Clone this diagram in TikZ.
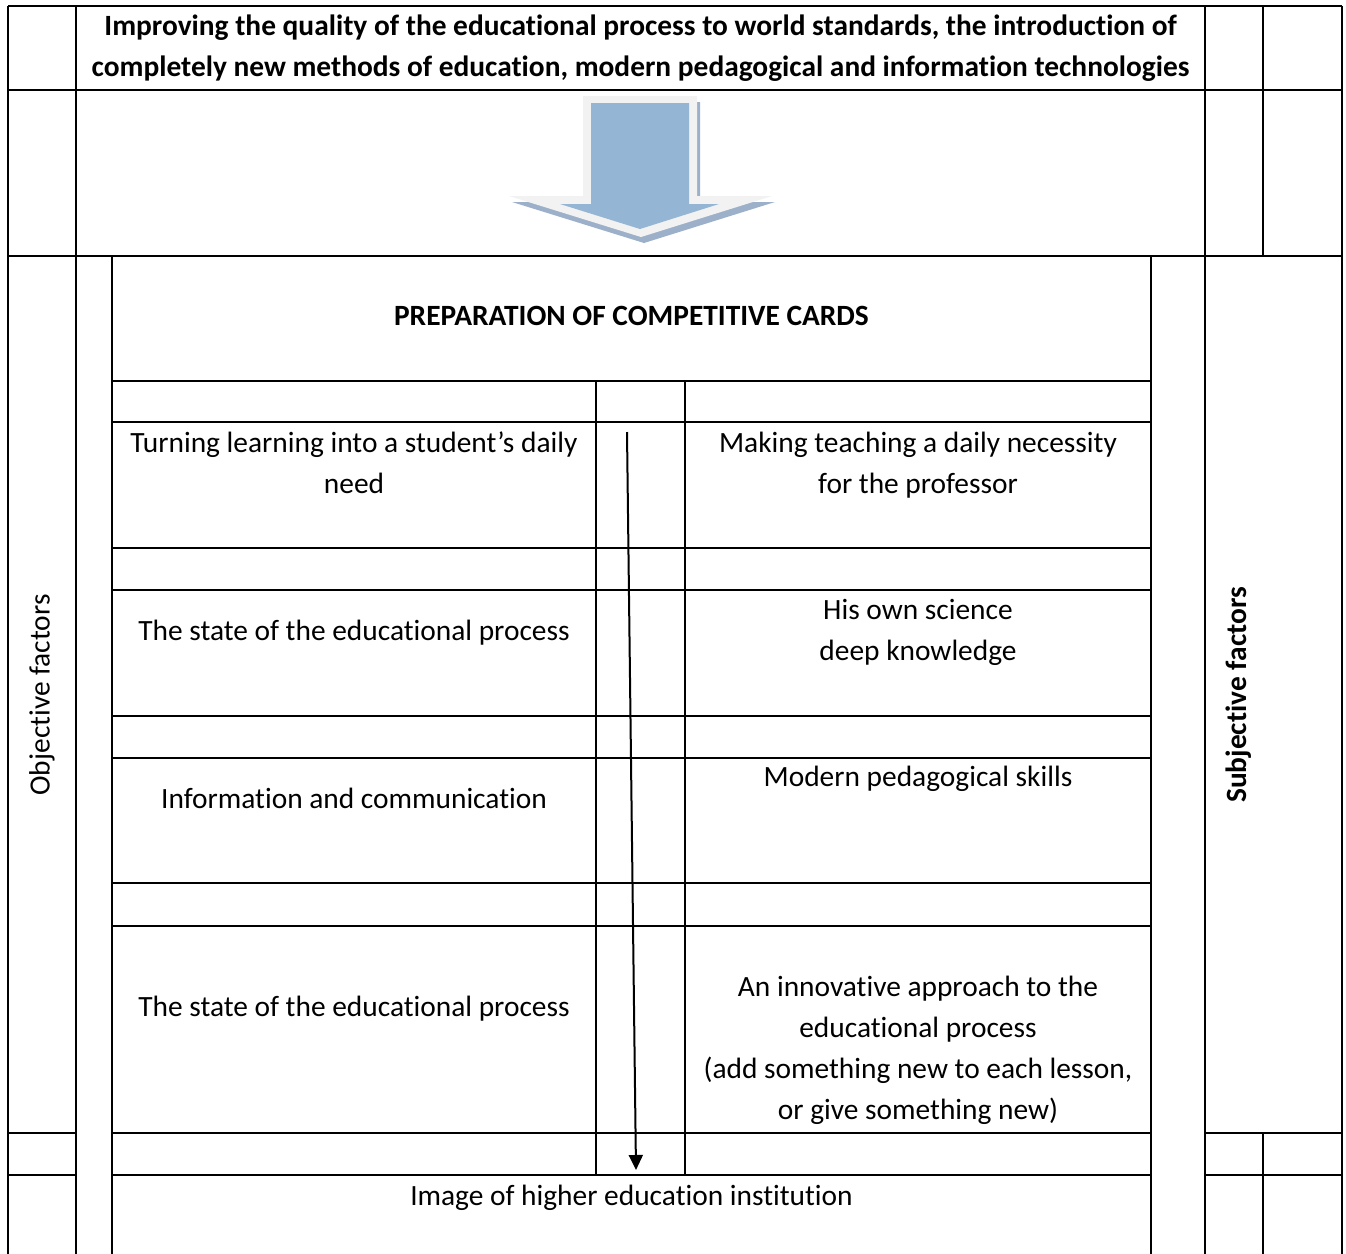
\documentclass[tikz,border=0pt]{standalone}
\usepackage{fontspec}
\setmainfont{Carlito}[Ligatures={NoCommon}]
\usepackage{tikz}
\usetikzlibrary{arrows.meta}

\definecolor{arrowblue}{RGB}{149,181,212}
\definecolor{arrowrim}{RGB}{242,242,242}
\definecolor{arrowshade}{RGB}{156,177,201}

\tikzset{
  cell/.style={line width=1.4pt},
  celltext/.style={inner sep=0pt,align=center,font=\fontsize{14.7}{20.5}\selectfont},
  boldtext/.style={celltext,font=\fontsize{14.7}{20.5}\selectfont\bfseries},
}

\begin{document}
\begin{tikzpicture}[x=0.5pt,y=0.5pt,yscale=-1,xscale=1]
    \useasboundingbox (0,0) rectangle (1346,1254);
    \fill[white] (0,0) rectangle (1346,1254);

    %Shape: Block Arrow shadow
    \fill[arrowshade] (586,102) -- (700,102) -- (700,202) -- (775,202) -- (644,243) -- (512,202) -- (586,202) -- cycle ;
    %Shape: Block Arrow rim
    \fill[arrowrim] (583,96) -- (697,96) -- (697,196) -- (772,196) -- (641,237) -- (509,196) -- (583,196) -- cycle ;
    %Shape: Block Arrow
    \fill[arrowblue] (591,103) -- (689,103) -- (689,204) -- (719,204) -- (640,229) -- (560,204) -- (591,204) -- cycle ;

    %Straight Lines: rows
    \draw[cell] (8,6) -- (1342,6) (8,90) -- (1342,90) (8,256) -- (1342,256) ;
    \draw[cell] (112,381) -- (1151,381) (112,422) -- (1151,422) (112,548) -- (1151,548) (112,590) -- (1151,590) (112,716) -- (1151,716) (112,758) -- (1151,758) (112,883) -- (1151,883) (112,926) -- (1151,926) ;
    \draw[cell] (8,1133) -- (76,1133) (112,1133) -- (1151,1133) (1205,1133) -- (1342,1133) ;
    \draw[cell] (8,1175) -- (76,1175) (112,1175) -- (1151,1175) (1205,1175) -- (1342,1175) ;
    %Straight Lines: columns
    \draw[cell] (8,6) -- (8,1254) (76,6) -- (76,1254) (1205,6) -- (1205,1254) (1342,6) -- (1342,1254) ;
    \draw[cell] (112,256) -- (112,1254) (1151,256) -- (1151,1254) ;
    \draw[cell] (596,381) -- (596,1175) (685,381) -- (685,1175) ;
    \draw[cell] (1263,6) -- (1263,256) (1263,1133) -- (1263,1254) ;

    % Text Node
    \node[boldtext] (goal) at (640.5,48) {Improving the quality of the educational process to world standards, the introduction of\\completely new methods of education, modern pedagogical and information technologies};
    % Text Node
    \node[boldtext] (cards) at (631.5,316) {PREPARATION OF COMPETITIVE CARDS};
    % Text Node
    \node[celltext] (studentneed) at (354,463) {Turning learning into a student’s daily\\need};
    % Text Node
    \node[celltext] (profneed) at (918,465) {Making teaching a daily necessity\\for the professor};
    % Text Node
    \node[celltext] (stateone) at (354,633) {The state of the educational process};
    % Text Node
    \node[celltext] (science) at (918,632) {His own science\\deep knowledge};
    % Text Node
    \node[celltext] (infocomm) at (354,798) {Information and communication};
    % Text Node
    \node[celltext] (skills) at (918,779) {Modern pedagogical skills};
    % Text Node
    \node[celltext] (statetwo) at (354,1009) {The state of the educational process};
    % Text Node
    \node[celltext] (innovation) at (918,1050) {An innovative approach to the\\educational process\\(add something new to each lesson,\\or give something new)};
    % Text Node
    \node[celltext] (image) at (631.5,1198) {Image of higher education institution};
    % Text Node
    \node[celltext,rotate=90] (objective) at (42,695) {Objective factors};
    % Text Node
    \node[boldtext,rotate=90] (subjective) at (1239,695) {Subjective factors};

    %Straight Lines [flow arrow]
    \coordinate (flowstart) at (627,432);
    \coordinate (flowend) at (636,1170);
    \draw[line width=1pt,-{Triangle[length=7.5pt,width=7pt]}] (flowstart) -- (flowend);

\end{tikzpicture}
\end{document}
